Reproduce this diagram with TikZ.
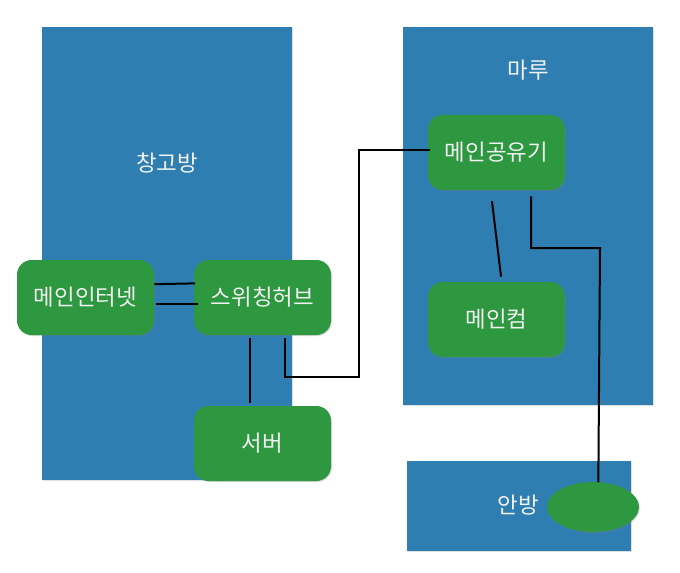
\documentclass[tikz,border=0pt]{standalone}
\usepackage{fontspec}
\setmainfont{Noto Sans CJK KR}
\usetikzlibrary{shapes.geometric,shadows}
\definecolor{roomblue}{RGB}{47,126,178}
\definecolor{devgreen}{RGB}{46,152,64}
\definecolor{txtwhite}{RGB}{242,242,242}
\tikzset{
  room/.style={fill=roomblue, draw=none, drop shadow={opacity=0.25, shadow xshift=0.6pt, shadow yshift=-0.8pt}},
  roomlabel/.style={text=txtwhite, font=\fontsize{16.8}{18}\selectfont, inner sep=0pt},
  device/.style={fill=devgreen, draw=none, rounded corners=11pt, minimum width=102.75pt, minimum height=56.25pt,
    text=txtwhite, font=\fontsize{16.8}{18}\selectfont, inner sep=0pt,
    drop shadow={opacity=0.3, shadow xshift=0.6pt, shadow yshift=-0.8pt}},
  blob/.style={ellipse, fill=devgreen, draw=none, minimum width=69pt, minimum height=37.5pt, inner sep=0pt,
    drop shadow={opacity=0.3, shadow xshift=0.6pt, shadow yshift=-0.8pt}},
  wire/.style={draw=black, line width=1.5pt}
}
\begin{document}
\begin{tikzpicture}[x=0.75pt,y=-0.75pt]
\useasboundingbox (0,0) rectangle (680,573);
% rooms
\path[room] (42,27) rectangle (292,480);
\path[room] (403,27) rectangle (653,405);
\path[room] (407,461) rectangle (631,551);
\node[roomlabel] (storage) at (167,163) {창고방};
\node[roomlabel] (maru) at (528,70) {마루};
\node[roomlabel] (anbang) at (518,505) {안방};
% devices
\node[device] (net) at (85.5,297.5) {메인인터넷};
\node[device] (hub) at (262.5,297.5) {스위칭허브};
\node[device] (server) at (262.5,443.5) {서버};
\node[device] (router) at (496.5,152.5) {메인공유기};
\node[device] (comp) at (496.5,319.5) {메인컴};
\node[blob] (ell) at (593,507) {};
% wires
\draw[wire] ([yshift=10pt]net.east) -- ([yshift=10.6pt,xshift=1pt]hub.west);
\draw[wire] ([yshift=-4.5pt,xshift=1.5pt]net.east) -- ([yshift=-4.5pt,xshift=3pt]hub.west);
\draw[wire] ([xshift=-9.4pt,yshift=-2.2pt]hub.south) -- ([xshift=-9.4pt,yshift=2.2pt]server.north);
\draw[wire] ([xshift=16.9pt,yshift=-2.2pt]hub.south) |- (359,377) |- ([xshift=2pt,yshift=1.9pt]router.west);
\draw[wire] ([xshift=-3.4pt,yshift=-8.2pt]router.south) -- ([xshift=3.4pt,yshift=3.8pt]comp.north);
\draw[wire] ([xshift=25.9pt,yshift=-4.5pt]router.south) |- (600,248) -- ([xshift=4pt,yshift=-0.5pt]ell.north);
\end{tikzpicture}
\end{document}
